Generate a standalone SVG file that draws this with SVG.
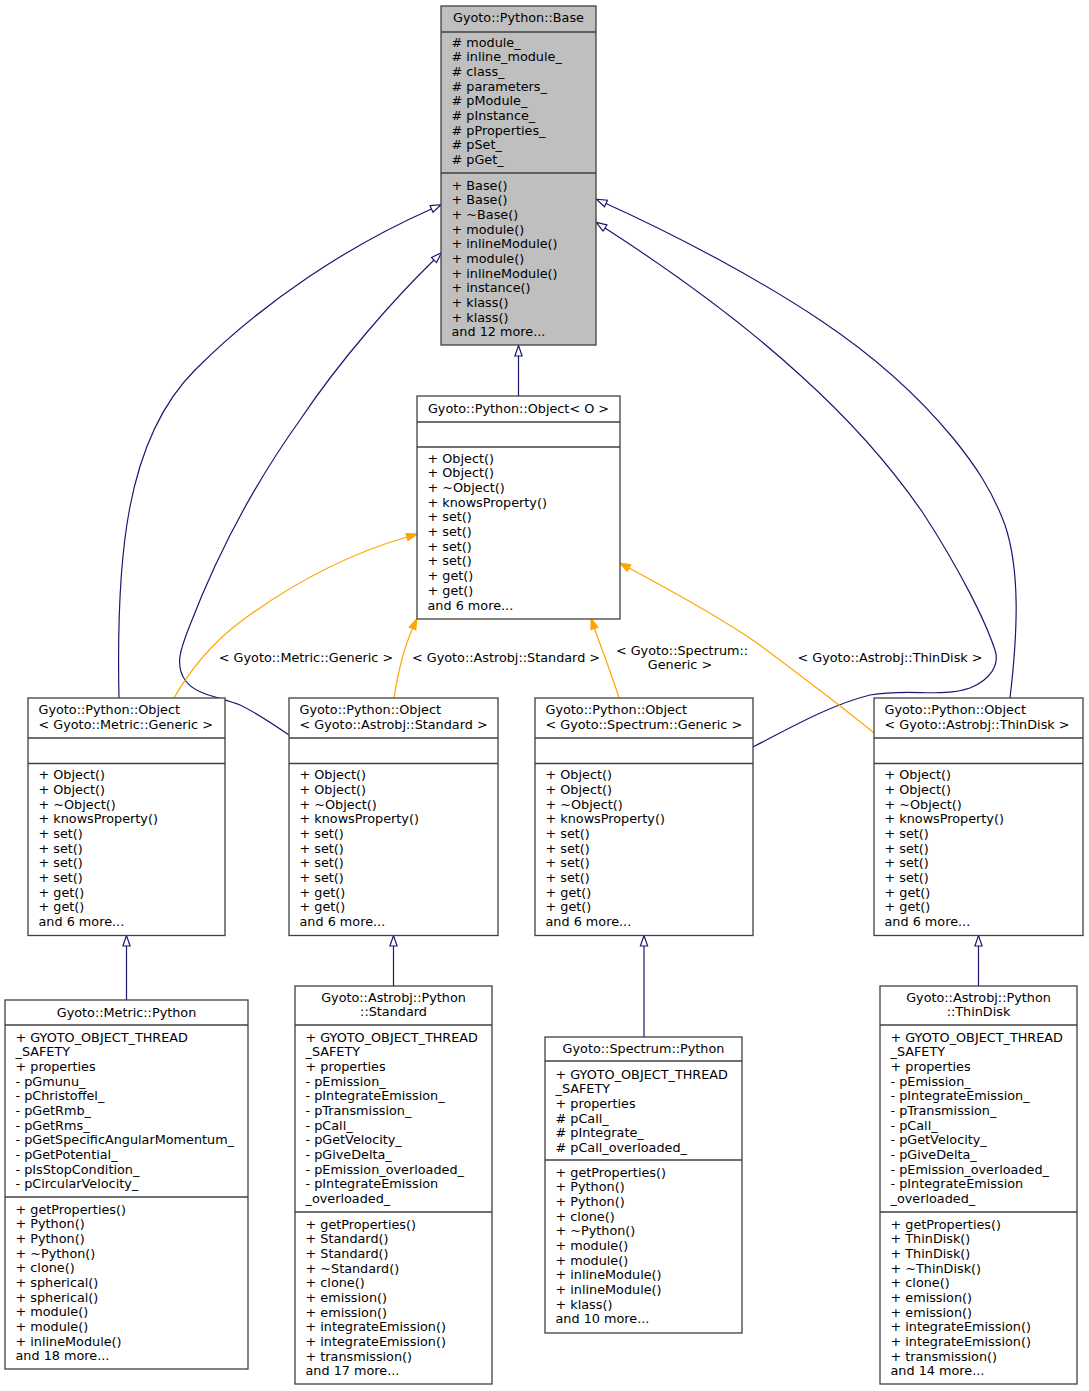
<svg xmlns="http://www.w3.org/2000/svg" width="1089" height="1391" viewBox="0 0 1089 1391">
<style>
text{font-family:"DejaVu Sans","Liberation Sans",sans-serif;font-size:12.8px;fill:#000}
.c{text-anchor:middle}
.box{fill:#fff;stroke:#404040;stroke-width:1.3}
.root{fill:#bfbfbf;stroke:#404040;stroke-width:1.3}
.sep{stroke:#404040;stroke-width:1.3}
.inh{fill:none;stroke:#191970;stroke-width:1.2}
.tpl{fill:none;stroke:#ffa500;stroke-width:1.2}
</style>
<defs>
<marker id="hollow" markerUnits="userSpaceOnUse" viewBox="-1 -5 13 10" refX="0" refY="0" markerWidth="13" markerHeight="10" orient="auto">
<path d="M0,-3.6 L10.5,0 L0,3.6 Z" fill="#fff" stroke="#191970" stroke-width="1.2"/>
</marker>
<marker id="filled" markerUnits="userSpaceOnUse" viewBox="-1 -5 13 10" refX="0" refY="0" markerWidth="13" markerHeight="10" orient="auto">
<path d="M0,-3.6 L10.5,0 L0,3.6 Z" fill="#ffa500" stroke="#ffa500" stroke-width="1.2"/>
</marker>
</defs>
<rect width="1089" height="1391" fill="#fff"/>

<g id="connectors">
<path class="inh" d="M518.5,396 L518.5,356" marker-end="url(#hollow)"/>
<path class="inh" d="M119,698 C116,560 125,440 195,370 C265,300 350,245 431.5,209" marker-end="url(#hollow)"/>
<path class="inh" d="M289,735 C270,722 255,712 240,705 C220,697 195,695 185,680 C175,665 180,650 190,625 C215,560 250,490 300,420 C340,360 395,298 434,260" marker-end="url(#hollow)"/>
<path class="inh" d="M753,747 C790,728 830,705 870,695 C910,688 940,698 970,688 C990,680 1000,665 995,650 C985,620 960,570 923,513 C890,465 850,420 800,375 C740,320 670,270 605,228" marker-end="url(#hollow)"/>
<path class="inh" d="M1010,698 C1018,630 1020,570 1005,525 C992,490 975,465 953,438 C920,398 880,360 820,320 C760,280 680,237 606,203.5" marker-end="url(#hollow)"/>
<path class="tpl" d="M174,698 C190,670 210,645 240,622 C290,585 345,555 407,537" marker-end="url(#filled)"/>
<path class="tpl" d="M394,698 C398,672 404,648 412.5,628.5" marker-end="url(#filled)"/>
<path class="tpl" d="M619,698 C612,675 602,650 594.5,628.5" marker-end="url(#filled)"/>
<path class="tpl" d="M874,733 C840,705 800,675 757,643 C720,617 670,590 629,568" marker-end="url(#filled)"/>
<path class="inh" d="M126.5,1000 L126.5,946" marker-end="url(#hollow)"/>
<path class="inh" d="M393.5,986 L393.5,946" marker-end="url(#hollow)"/>
<path class="inh" d="M644,1037 L644,946" marker-end="url(#hollow)"/>
<path class="inh" d="M978.5,986 L978.5,946" marker-end="url(#hollow)"/>
<text class="c" x="306" y="661.5">&lt; Gyoto::Metric::Generic &gt;</text>
<text class="c" x="506" y="661.5">&lt; Gyoto::Astrobj::Standard &gt;</text>
<text class="c" x="682" y="654.5">&lt; Gyoto::Spectrum::</text>
<text class="c" x="680" y="669">Generic &gt;</text>
<text class="c" x="890" y="661.5">&lt; Gyoto::Astrobj::ThinDisk &gt;</text>
</g>

<g id="node-base">
<rect class="root" x="441" y="6" width="155" height="339"/>
<line class="sep" x1="441" y1="32" x2="596" y2="32"/>
<line class="sep" x1="441" y1="173" x2="596" y2="173"/>
<text class="c" x="518.5" y="21.5">Gyoto::Python::Base</text>
<text x="451.5" y="46.5"><tspan x="451.5" dy="0"># module_</tspan><tspan x="451.5" dy="14.67"># inline_module_</tspan><tspan x="451.5" dy="14.67"># class_</tspan><tspan x="451.5" dy="14.67"># parameters_</tspan><tspan x="451.5" dy="14.67"># pModule_</tspan><tspan x="451.5" dy="14.67"># pInstance_</tspan><tspan x="451.5" dy="14.67"># pProperties_</tspan><tspan x="451.5" dy="14.67"># pSet_</tspan><tspan x="451.5" dy="14.67"># pGet_</tspan></text>
<text x="451.5" y="189.5"><tspan x="451.5" dy="0">+ Base()</tspan><tspan x="451.5" dy="14.67">+ Base()</tspan><tspan x="451.5" dy="14.67">+ ~Base()</tspan><tspan x="451.5" dy="14.67">+ module()</tspan><tspan x="451.5" dy="14.67">+ inlineModule()</tspan><tspan x="451.5" dy="14.67">+ module()</tspan><tspan x="451.5" dy="14.67">+ inlineModule()</tspan><tspan x="451.5" dy="14.67">+ instance()</tspan><tspan x="451.5" dy="14.67">+ klass()</tspan><tspan x="451.5" dy="14.67">+ klass()</tspan><tspan x="451.5" dy="14.67">and 12 more...</tspan></text>
</g>

<g id="node-object">
<rect class="box" x="417" y="396" width="203" height="223"/>
<line class="sep" x1="417" y1="422" x2="620" y2="422"/>
<line class="sep" x1="417" y1="447" x2="620" y2="447"/>
<text class="c" x="518.5" y="412.8">Gyoto::Python::Object&lt; O &gt;</text>
<text x="427.5" y="462.8"><tspan x="427.5" dy="0">+ Object()</tspan><tspan x="427.5" dy="14.67">+ Object()</tspan><tspan x="427.5" dy="14.67">+ ~Object()</tspan><tspan x="427.5" dy="14.67">+ knowsProperty()</tspan><tspan x="427.5" dy="14.67">+ set()</tspan><tspan x="427.5" dy="14.67">+ set()</tspan><tspan x="427.5" dy="14.67">+ set()</tspan><tspan x="427.5" dy="14.67">+ set()</tspan><tspan x="427.5" dy="14.67">+ get()</tspan><tspan x="427.5" dy="14.67">+ get()</tspan><tspan x="427.5" dy="14.67">and 6 more...</tspan></text>
</g>

<g id="node-obj-metric">
<rect class="box" x="28" y="698" width="197" height="237.5"/>
<line class="sep" x1="28" y1="738" x2="225" y2="738"/>
<line class="sep" x1="28" y1="763.5" x2="225" y2="763.5"/>
<text x="38.5" y="714"><tspan x="38.5" dy="0">Gyoto::Python::Object</tspan><tspan x="38.5" dy="14.67">&lt; Gyoto::Metric::Generic &gt;</tspan></text>
<text x="38.5" y="779.2"><tspan x="38.5" dy="0">+ Object()</tspan><tspan x="38.5" dy="14.67">+ Object()</tspan><tspan x="38.5" dy="14.67">+ ~Object()</tspan><tspan x="38.5" dy="14.67">+ knowsProperty()</tspan><tspan x="38.5" dy="14.67">+ set()</tspan><tspan x="38.5" dy="14.67">+ set()</tspan><tspan x="38.5" dy="14.67">+ set()</tspan><tspan x="38.5" dy="14.67">+ set()</tspan><tspan x="38.5" dy="14.67">+ get()</tspan><tspan x="38.5" dy="14.67">+ get()</tspan><tspan x="38.5" dy="14.67">and 6 more...</tspan></text>
</g>

<g id="node-obj-standard">
<rect class="box" x="289" y="698" width="209" height="237.5"/>
<line class="sep" x1="289" y1="738" x2="498" y2="738"/>
<line class="sep" x1="289" y1="763.5" x2="498" y2="763.5"/>
<text x="299.5" y="714"><tspan x="299.5" dy="0">Gyoto::Python::Object</tspan><tspan x="299.5" dy="14.67">&lt; Gyoto::Astrobj::Standard &gt;</tspan></text>
<text x="299.5" y="779.2"><tspan x="299.5" dy="0">+ Object()</tspan><tspan x="299.5" dy="14.67">+ Object()</tspan><tspan x="299.5" dy="14.67">+ ~Object()</tspan><tspan x="299.5" dy="14.67">+ knowsProperty()</tspan><tspan x="299.5" dy="14.67">+ set()</tspan><tspan x="299.5" dy="14.67">+ set()</tspan><tspan x="299.5" dy="14.67">+ set()</tspan><tspan x="299.5" dy="14.67">+ set()</tspan><tspan x="299.5" dy="14.67">+ get()</tspan><tspan x="299.5" dy="14.67">+ get()</tspan><tspan x="299.5" dy="14.67">and 6 more...</tspan></text>
</g>

<g id="node-obj-spectrum">
<rect class="box" x="535" y="698" width="218" height="237.5"/>
<line class="sep" x1="535" y1="738" x2="753" y2="738"/>
<line class="sep" x1="535" y1="763.5" x2="753" y2="763.5"/>
<text x="545.5" y="714"><tspan x="545.5" dy="0">Gyoto::Python::Object</tspan><tspan x="545.5" dy="14.67">&lt; Gyoto::Spectrum::Generic &gt;</tspan></text>
<text x="545.5" y="779.2"><tspan x="545.5" dy="0">+ Object()</tspan><tspan x="545.5" dy="14.67">+ Object()</tspan><tspan x="545.5" dy="14.67">+ ~Object()</tspan><tspan x="545.5" dy="14.67">+ knowsProperty()</tspan><tspan x="545.5" dy="14.67">+ set()</tspan><tspan x="545.5" dy="14.67">+ set()</tspan><tspan x="545.5" dy="14.67">+ set()</tspan><tspan x="545.5" dy="14.67">+ set()</tspan><tspan x="545.5" dy="14.67">+ get()</tspan><tspan x="545.5" dy="14.67">+ get()</tspan><tspan x="545.5" dy="14.67">and 6 more...</tspan></text>
</g>

<g id="node-obj-thindisk">
<rect class="box" x="874" y="698" width="209" height="237.5"/>
<line class="sep" x1="874" y1="738" x2="1083" y2="738"/>
<line class="sep" x1="874" y1="763.5" x2="1083" y2="763.5"/>
<text x="884.5" y="714"><tspan x="884.5" dy="0">Gyoto::Python::Object</tspan><tspan x="884.5" dy="14.67">&lt; Gyoto::Astrobj::ThinDisk &gt;</tspan></text>
<text x="884.5" y="779.2"><tspan x="884.5" dy="0">+ Object()</tspan><tspan x="884.5" dy="14.67">+ Object()</tspan><tspan x="884.5" dy="14.67">+ ~Object()</tspan><tspan x="884.5" dy="14.67">+ knowsProperty()</tspan><tspan x="884.5" dy="14.67">+ set()</tspan><tspan x="884.5" dy="14.67">+ set()</tspan><tspan x="884.5" dy="14.67">+ set()</tspan><tspan x="884.5" dy="14.67">+ set()</tspan><tspan x="884.5" dy="14.67">+ get()</tspan><tspan x="884.5" dy="14.67">+ get()</tspan><tspan x="884.5" dy="14.67">and 6 more...</tspan></text>
</g>

<g id="node-metric-python">
<rect class="box" x="5" y="1000" width="243" height="369"/>
<line class="sep" x1="5" y1="1025" x2="248" y2="1025"/>
<line class="sep" x1="5" y1="1197" x2="248" y2="1197"/>
<text class="c" x="126.5" y="1016.5">Gyoto::Metric::Python</text>
<text x="15.5" y="1041.5"><tspan x="15.5" dy="0">+ GYOTO_OBJECT_THREAD</tspan><tspan x="15.5" dy="14.67">_SAFETY</tspan><tspan x="15.5" dy="14.67">+ properties</tspan><tspan x="15.5" dy="14.67">- pGmunu_</tspan><tspan x="15.5" dy="14.67">- pChristoffel_</tspan><tspan x="15.5" dy="14.67">- pGetRmb_</tspan><tspan x="15.5" dy="14.67">- pGetRms_</tspan><tspan x="15.5" dy="14.67">- pGetSpecificAngularMomentum_</tspan><tspan x="15.5" dy="14.67">- pGetPotential_</tspan><tspan x="15.5" dy="14.67">- pIsStopCondition_</tspan><tspan x="15.5" dy="14.67">- pCircularVelocity_</tspan></text>
<text x="15.5" y="1213.5"><tspan x="15.5" dy="0">+ getProperties()</tspan><tspan x="15.5" dy="14.67">+ Python()</tspan><tspan x="15.5" dy="14.67">+ Python()</tspan><tspan x="15.5" dy="14.67">+ ~Python()</tspan><tspan x="15.5" dy="14.67">+ clone()</tspan><tspan x="15.5" dy="14.67">+ spherical()</tspan><tspan x="15.5" dy="14.67">+ spherical()</tspan><tspan x="15.5" dy="14.67">+ module()</tspan><tspan x="15.5" dy="14.67">+ module()</tspan><tspan x="15.5" dy="14.67">+ inlineModule()</tspan><tspan x="15.5" dy="14.67">and 18 more...</tspan></text>
</g>

<g id="node-astrobj-standard">
<rect class="box" x="295" y="986" width="197" height="398"/>
<line class="sep" x1="295" y1="1025" x2="492" y2="1025"/>
<line class="sep" x1="295" y1="1212" x2="492" y2="1212"/>
<text class="c" x="393.5" y="1001.5"><tspan x="393.5" dy="0">Gyoto::Astrobj::Python</tspan><tspan x="393.5" dy="14.67">::Standard</tspan></text>
<text x="305.5" y="1041.5"><tspan x="305.5" dy="0">+ GYOTO_OBJECT_THREAD</tspan><tspan x="305.5" dy="14.67">_SAFETY</tspan><tspan x="305.5" dy="14.67">+ properties</tspan><tspan x="305.5" dy="14.67">- pEmission_</tspan><tspan x="305.5" dy="14.67">- pIntegrateEmission_</tspan><tspan x="305.5" dy="14.67">- pTransmission_</tspan><tspan x="305.5" dy="14.67">- pCall_</tspan><tspan x="305.5" dy="14.67">- pGetVelocity_</tspan><tspan x="305.5" dy="14.67">- pGiveDelta_</tspan><tspan x="305.5" dy="14.67">- pEmission_overloaded_</tspan><tspan x="305.5" dy="14.67">- pIntegrateEmission</tspan><tspan x="305.5" dy="14.67">_overloaded_</tspan></text>
<text x="305.5" y="1228.5"><tspan x="305.5" dy="0">+ getProperties()</tspan><tspan x="305.5" dy="14.67">+ Standard()</tspan><tspan x="305.5" dy="14.67">+ Standard()</tspan><tspan x="305.5" dy="14.67">+ ~Standard()</tspan><tspan x="305.5" dy="14.67">+ clone()</tspan><tspan x="305.5" dy="14.67">+ emission()</tspan><tspan x="305.5" dy="14.67">+ emission()</tspan><tspan x="305.5" dy="14.67">+ integrateEmission()</tspan><tspan x="305.5" dy="14.67">+ integrateEmission()</tspan><tspan x="305.5" dy="14.67">+ transmission()</tspan><tspan x="305.5" dy="14.67">and 17 more...</tspan></text>
</g>

<g id="node-spectrum-python">
<rect class="box" x="545" y="1037" width="197" height="296"/>
<line class="sep" x1="545" y1="1061" x2="742" y2="1061"/>
<line class="sep" x1="545" y1="1160" x2="742" y2="1160"/>
<text class="c" x="643.5" y="1052.5">Gyoto::Spectrum::Python</text>
<text x="555.5" y="1078.5"><tspan x="555.5" dy="0">+ GYOTO_OBJECT_THREAD</tspan><tspan x="555.5" dy="14.67">_SAFETY</tspan><tspan x="555.5" dy="14.67">+ properties</tspan><tspan x="555.5" dy="14.67"># pCall_</tspan><tspan x="555.5" dy="14.67"># pIntegrate_</tspan><tspan x="555.5" dy="14.67"># pCall_overloaded_</tspan></text>
<text x="555.5" y="1176.5"><tspan x="555.5" dy="0">+ getProperties()</tspan><tspan x="555.5" dy="14.67">+ Python()</tspan><tspan x="555.5" dy="14.67">+ Python()</tspan><tspan x="555.5" dy="14.67">+ clone()</tspan><tspan x="555.5" dy="14.67">+ ~Python()</tspan><tspan x="555.5" dy="14.67">+ module()</tspan><tspan x="555.5" dy="14.67">+ module()</tspan><tspan x="555.5" dy="14.67">+ inlineModule()</tspan><tspan x="555.5" dy="14.67">+ inlineModule()</tspan><tspan x="555.5" dy="14.67">+ klass()</tspan><tspan x="555.5" dy="14.67">and 10 more...</tspan></text>
</g>

<g id="node-astrobj-thindisk">
<rect class="box" x="880" y="986" width="197" height="398"/>
<line class="sep" x1="880" y1="1025" x2="1077" y2="1025"/>
<line class="sep" x1="880" y1="1212" x2="1077" y2="1212"/>
<text class="c" x="978.5" y="1001.5"><tspan x="978.5" dy="0">Gyoto::Astrobj::Python</tspan><tspan x="978.5" dy="14.67">::ThinDisk</tspan></text>
<text x="890.5" y="1041.5"><tspan x="890.5" dy="0">+ GYOTO_OBJECT_THREAD</tspan><tspan x="890.5" dy="14.67">_SAFETY</tspan><tspan x="890.5" dy="14.67">+ properties</tspan><tspan x="890.5" dy="14.67">- pEmission_</tspan><tspan x="890.5" dy="14.67">- pIntegrateEmission_</tspan><tspan x="890.5" dy="14.67">- pTransmission_</tspan><tspan x="890.5" dy="14.67">- pCall_</tspan><tspan x="890.5" dy="14.67">- pGetVelocity_</tspan><tspan x="890.5" dy="14.67">- pGiveDelta_</tspan><tspan x="890.5" dy="14.67">- pEmission_overloaded_</tspan><tspan x="890.5" dy="14.67">- pIntegrateEmission</tspan><tspan x="890.5" dy="14.67">_overloaded_</tspan></text>
<text x="890.5" y="1228.5"><tspan x="890.5" dy="0">+ getProperties()</tspan><tspan x="890.5" dy="14.67">+ ThinDisk()</tspan><tspan x="890.5" dy="14.67">+ ThinDisk()</tspan><tspan x="890.5" dy="14.67">+ ~ThinDisk()</tspan><tspan x="890.5" dy="14.67">+ clone()</tspan><tspan x="890.5" dy="14.67">+ emission()</tspan><tspan x="890.5" dy="14.67">+ emission()</tspan><tspan x="890.5" dy="14.67">+ integrateEmission()</tspan><tspan x="890.5" dy="14.67">+ integrateEmission()</tspan><tspan x="890.5" dy="14.67">+ transmission()</tspan><tspan x="890.5" dy="14.67">and 14 more...</tspan></text>
</g>
</svg>
